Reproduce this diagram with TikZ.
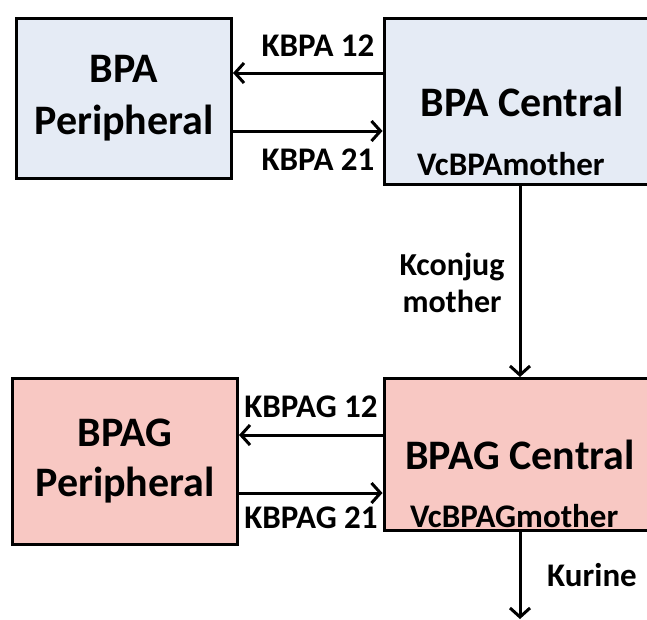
\documentclass[tikz,border=0pt]{standalone}
\usepackage{fontspec}
\setmainfont{Carlito}
\usetikzlibrary{arrows.meta,calc}
\definecolor{bluefill}{HTML}{E5EBF5}
\definecolor{pinkfill}{HTML}{F8C8C3}
\begin{document}
\begin{tikzpicture}[x=1pt,y=-1pt,
  box/.style={draw=black,line width=3pt,rectangle,inner sep=0pt,align=center,font=\fontsize{42}{52}\selectfont\bfseries},
  lbl/.style={font=\fontsize{33}{37}\selectfont\bfseries,inner sep=0pt,align=center},
  arr/.style={line width=3pt,-{Straight Barb[length=9pt,width=20pt]}}]
\useasboundingbox (0,0) rectangle (647,619);
\clip (0,0) rectangle (647,619);
% boxes
\node[box,fill=bluefill,minimum width=215pt,minimum height=160pt] (bp) at (124,98.5) {BPA\\Peripheral};
\node[box,fill=bluefill,minimum width=276pt,minimum height=166pt] (bc) at (522,101.5) {BPA Central};
\node[box,fill=pinkfill,minimum width=225pt,minimum height=166pt,font=\fontsize{42}{50}\selectfont\bfseries] (gp) at (125,461) {BPAG\\Peripheral};
\node[box,fill=pinkfill,minimum width=272pt,minimum height=152pt] (gc) at (520,454.5) {BPAG Central};
% inner labels
\node[lbl,anchor=base west] (vc1) at (417,175) {VcBPAmother};
\node[lbl,anchor=base west] (vc2) at (410,527) {VcBPAGmother};
% coordinates for arrow heights
\coordinate (y1) at (0,73);
\coordinate (y2) at (0,131);
\coordinate (y3) at (0,435);
\coordinate (y4) at (0,493);
\coordinate (bot) at (520,619);
% arrows
\draw[arr] (bc.west |- y1) -- (bp.east |- y1);
\draw[arr] (bp.east |- y2) -- (bc.west |- y2);
\draw[arr] (gc.west |- y3) -- (gp.east |- y3);
\draw[arr] (gp.east |- y4) -- (gc.west |- y4);
\draw[arr] (bc.south -| bot) -- (gc.north -| bot);
\draw[arr] (gc.south -| bot) -- (bot);
% connector labels
\node[lbl] (l1) at (318,46) {KBPA 12};
\node[lbl] (l2) at (318,160) {KBPA 21};
\node[lbl] (l3) at (311,407) {KBPAG 12};
\node[lbl] (l4) at (311,518) {KBPAG 21};
\node[lbl,font=\fontsize{32}{37}\selectfont\bfseries] (l5) at (452,283) {Kconjug\\mother};
\node[lbl] (l6) at (592,575) {Kurine};
\end{tikzpicture}
\end{document}
